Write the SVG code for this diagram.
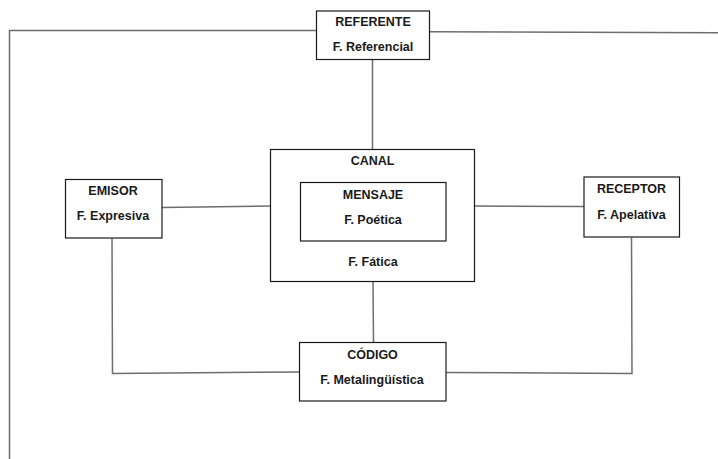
<svg xmlns="http://www.w3.org/2000/svg" width="718" height="459" viewBox="0 0 718 459">
<style>
.box{fill:#fff;stroke:#1a1a1a;stroke-width:1.2}
.ln{fill:none;stroke:#6e6e6e;stroke-width:1.5}
text{font-family:"Liberation Sans",Arial,sans-serif;font-size:12.5px;font-weight:bold;fill:#1a1a1a;text-anchor:middle}
</style>
<rect width="718" height="459" fill="#fff"/>
<g id="connectors">
<polyline class="ln" points="316.5,30.5 9.5,30.5 9.5,459"/>
<line class="ln" x1="430" y1="31.8" x2="718" y2="32.8"/>
<line class="ln" x1="372.5" y1="59.5" x2="372.5" y2="149.5"/>
<line class="ln" x1="162" y1="207.5" x2="270.5" y2="206"/>
<line class="ln" x1="474.5" y1="206" x2="584" y2="206.5"/>
<line class="ln" x1="373" y1="281.5" x2="373.5" y2="342.5"/>
<polyline class="ln" points="112,238.5 112.5,373.5 299.5,372"/>
<polyline class="ln" points="631.5,237.5 632,373.5 446,372.5"/>
</g>
<g id="referente">
<rect class="box" x="316.5" y="11" width="113" height="48.5"/>
<text x="373" y="26">REFERENTE</text>
<text x="373" y="51">F. Referencial</text>
</g>
<g id="canal">
<rect class="box" x="270.5" y="149.5" width="204" height="132"/>
<text x="372.5" y="165">CANAL</text>
<text x="373" y="265.5">F. Fática</text>
</g>
<g id="mensaje">
<rect class="box" x="300.5" y="182.5" width="145.5" height="58.5"/>
<text x="373" y="198.5">MENSAJE</text>
<text x="373" y="224">F. Poética</text>
</g>
<g id="emisor">
<rect class="box" x="65.5" y="179.5" width="96.5" height="58.5"/>
<text x="113" y="195">EMISOR</text>
<text x="113" y="220">F. Expresiva</text>
</g>
<g id="receptor">
<rect class="box" x="584" y="177" width="95.5" height="60"/>
<text x="631.5" y="193">RECEPTOR</text>
<text x="631.5" y="219">F. Apelativa</text>
</g>
<g id="codigo">
<rect class="box" x="299.5" y="342.5" width="146.5" height="58.5"/>
<text x="372.5" y="358.5">CÓDIGO</text>
<text x="372" y="383.5">F. Metalingüística</text>
</g>
</svg>
